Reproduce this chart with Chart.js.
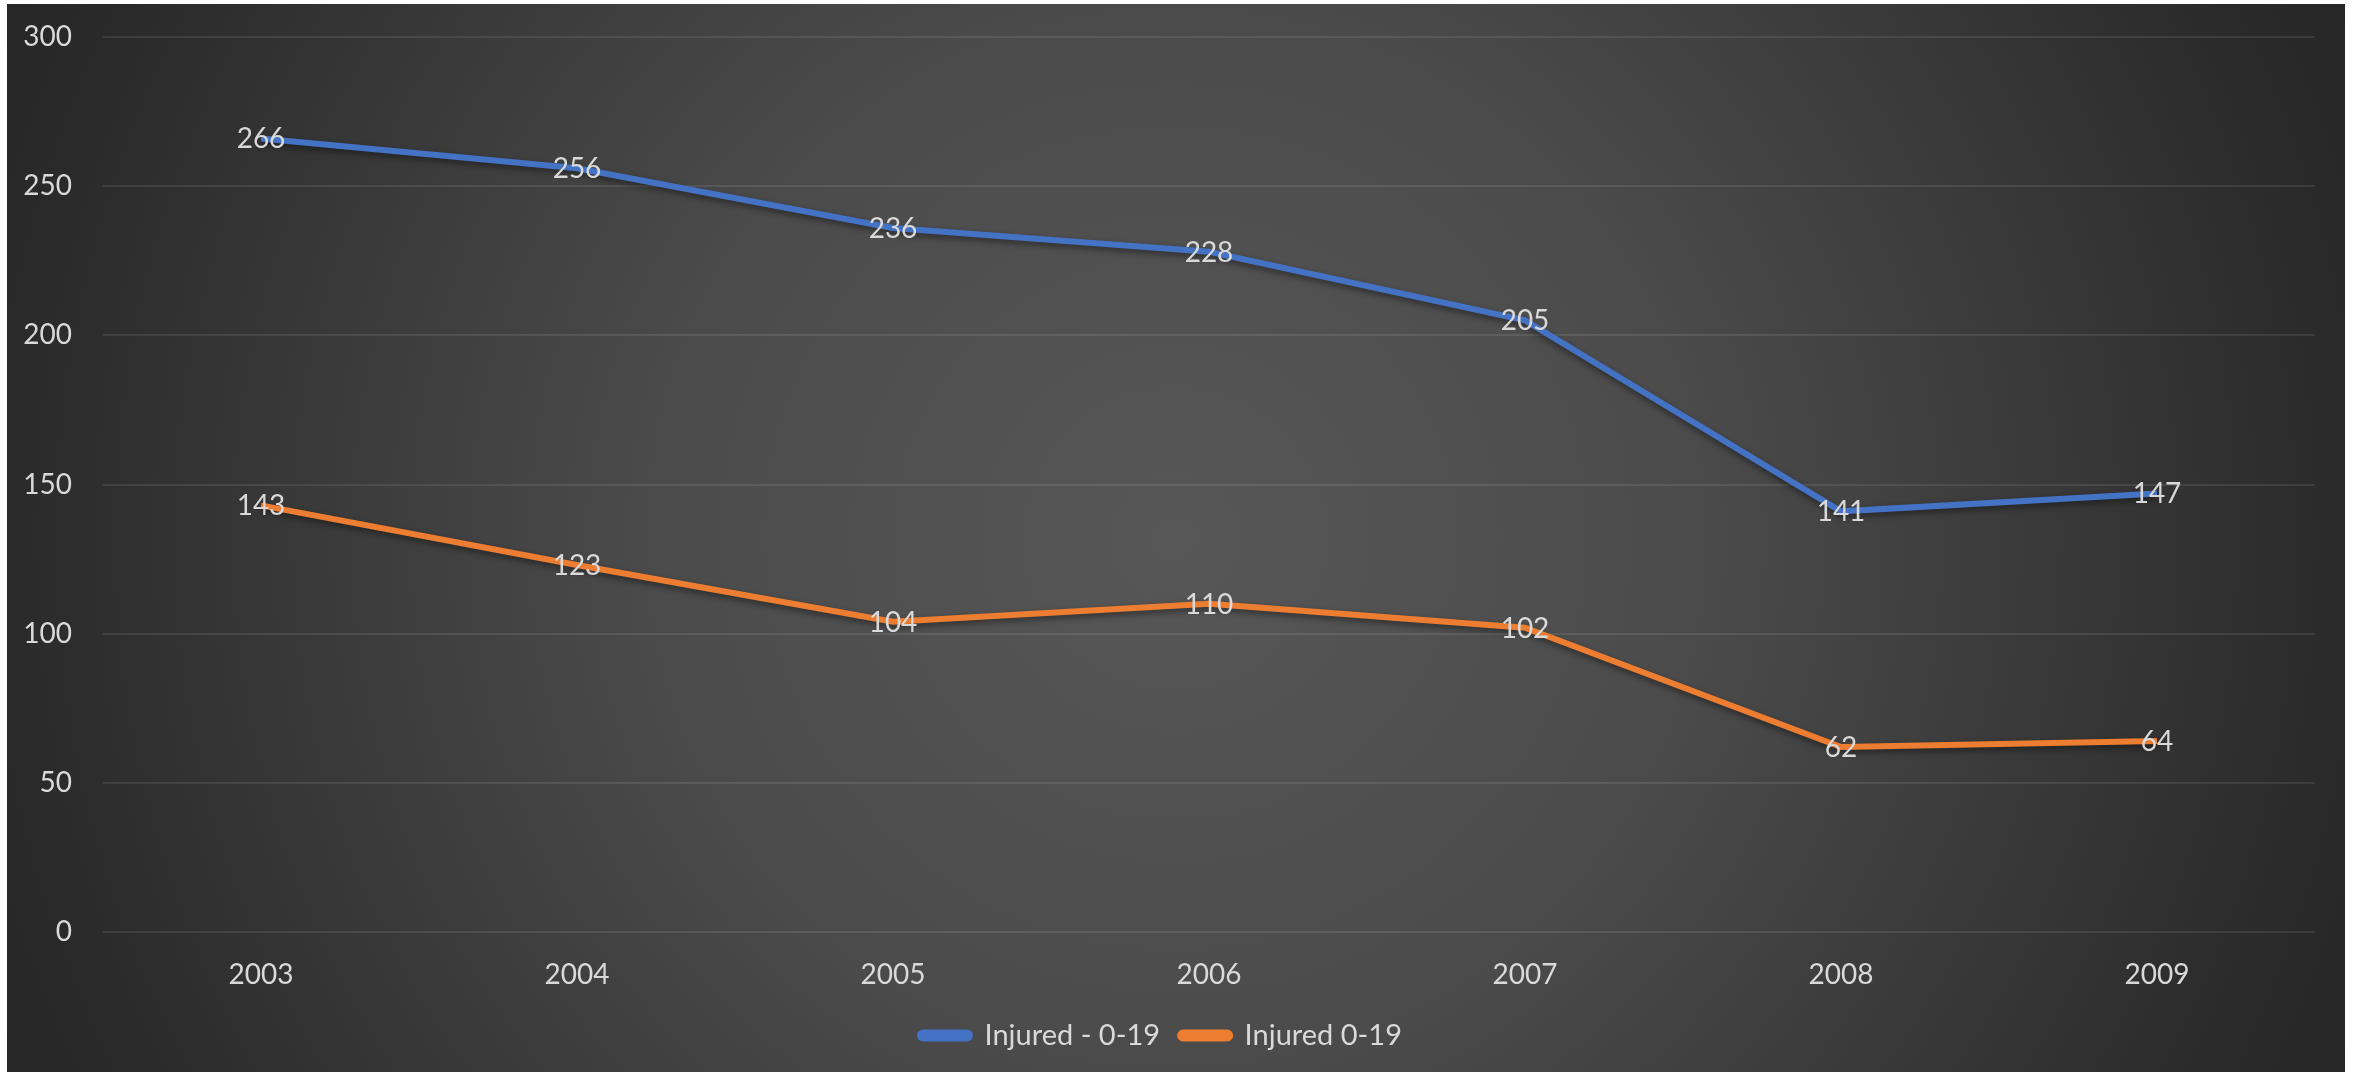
<!DOCTYPE html>
<html>
<head>
<meta charset="utf-8">
<script src="https://cdn.jsdelivr.net/npm/chart.js@4.4.1/dist/chart.umd.min.js"></script>
<style>
    html, body { margin: 0; padding: 0; background: #ffffff; }
    #wrap { position: absolute; left: 7px; top: 4px; width: 2338px; height: 1068px; }
</style>
</head>
<body>
<div id="wrap"><canvas id="injuredChart"></canvas></div>
<script>
const years = ['2003', '2004', '2005', '2006', '2007', '2008', '2009'];
const injuredDash = [266, 256, 236, 228, 205, 141, 147];   // Injured - 0-19
const injuredPlain = [143, 123, 104, 110, 102, 62, 64];    // Injured 0-19
const yTicks = [0, 50, 100, 150, 200, 250, 300];

const textColor = '#d9d9d9';
const fontFamily = 'Lato, "Open Sans", sans-serif';

// radial grey background like the Excel dark style
const backgroundPlugin = {
    id: 'bgGradient',
    beforeDraw(chart) {
        const ctx = chart.ctx;
        const w = chart.width, h = chart.height;
        const g = ctx.createRadialGradient(w / 2, h / 2, 0, w / 2, h / 2, 1300);
        g.addColorStop(0, '#575757');
        g.addColorStop(0.4, '#4b4b4b');
        g.addColorStop(0.9, '#2a2a2a');
        g.addColorStop(1, '#262626');
        ctx.save();
        ctx.fillStyle = g;
        ctx.fillRect(0, 0, w, h);
        ctx.restore();
    }
};

// soft shadow under the lines
const shadowPlugin = {
    id: 'lineShadow',
    beforeDatasetDraw(chart) {
        const ctx = chart.ctx;
        ctx.save();
        ctx.shadowColor = 'rgba(0, 0, 0, 0.45)';
        ctx.shadowBlur = 6;
        ctx.shadowOffsetY = 3;
    },
    afterDatasetDraw(chart) {
        chart.ctx.restore();
    }
};

// value labels centred on each point
const valueLabelPlugin = {
    id: 'valueLabels',
    afterDatasetsDraw(chart) {
        const ctx = chart.ctx;
        ctx.save();
        ctx.font = '28px ' + fontFamily;
        ctx.fillStyle = textColor;
        ctx.textAlign = 'center';
        ctx.textBaseline = 'middle';
        chart.data.datasets.forEach((ds, i) => {
            chart.getDatasetMeta(i).data.forEach((pt, j) => {
                ctx.fillText(String(ds.data[j]), pt.x, pt.y + 1);
            });
        });
        ctx.restore();
    }
};

new Chart(document.getElementById('injuredChart').getContext('2d'), {
    type: 'line',
    data: {
        labels: years,
        datasets: [{
            label: 'Injured - 0-19',
            data: injuredDash,
            borderColor: '#4472c4',
            backgroundColor: '#4472c4',
            borderWidth: 6,
            pointRadius: 0,
            tension: 0,
            fill: false
        }, {
            label: 'Injured 0-19',
            data: injuredPlain,
            borderColor: '#ed7d31',
            backgroundColor: '#ed7d31',
            borderWidth: 6,
            pointRadius: 0,
            tension: 0,
            fill: false
        }]
    },
    options: {
        responsive: true,
        maintainAspectRatio: false,
        animation: false,
        layout: {
            padding: { top: 33, right: 30, bottom: 12, left: 0 }
        },
        scales: {
            x: {
                offset: true,
                grid: { display: false },
                border: { display: false },
                ticks: {
                    color: textColor,
                    font: { family: fontFamily, size: 28 },
                    padding: 18
                },
                afterFit(scale) { scale.height = 69; }
            },
            y: {
                min: 0,
                max: 300,
                afterBuildTicks(scale) {
                    scale.ticks = yTicks.map(v => ({ value: v }));
                },
                grid: {
                    color: 'rgba(255, 255, 255, 0.09)',
                    lineWidth: 2,
                    drawTicks: false
                },
                border: { display: false },
                ticks: {
                    color: textColor,
                    font: { family: fontFamily, size: 28 },
                    padding: 31
                },
                afterFit(scale) {
                    // tick padding would otherwise push the plot top down
                    scale.width = 96;
                    scale.paddingTop = 0;
                    scale.paddingBottom = 0;
                }
            }
        },
        plugins: {
            legend: {
                position: 'bottom',
                labels: {
                    color: textColor,
                    font: { family: fontFamily, size: 29 },
                    boxWidth: 50,
                    boxHeight: 6,
                    padding: 20,
                    useBorderRadius: true,
                    borderRadius: 3
                }
            },
            tooltip: { enabled: false }
        }
    },
    plugins: [backgroundPlugin, shadowPlugin, valueLabelPlugin]
});
</script>
</body>
</html>
